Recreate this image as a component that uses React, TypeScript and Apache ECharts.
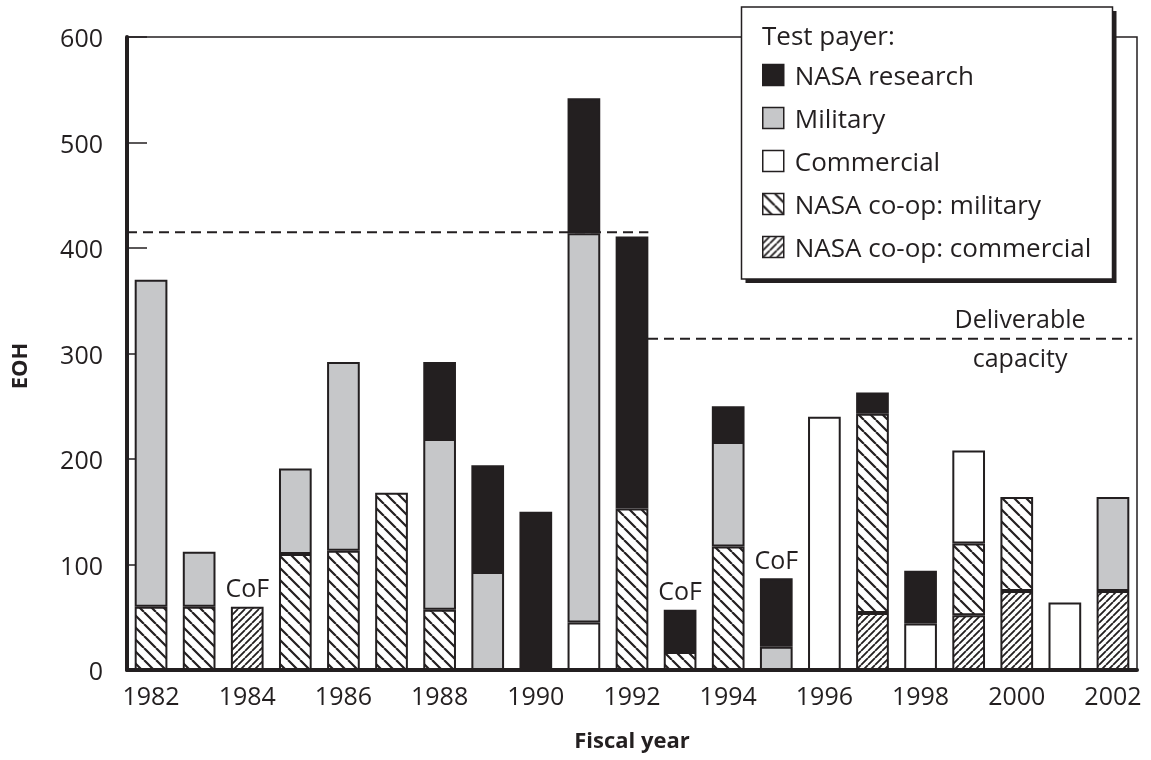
import React, { useEffect, useRef } from "react";
import * as echarts from "echarts";

const years = ["1982","1983","1984","1985","1986","1987","1988","1989","1990","1991","1992","1993","1994","1995","1996","1997","1998","1999","2000","2001","2002"];
const coopCommercial = [0, 0, 60, 0, 0, 0, 0, 0, 0, 0, 0, 0, 0, 0, 0, 54, 0, 52, 75, 0, 75];
const coopMilitary = [60, 60, 0, 110, 113, 168, 57, 0, 0, 0, 153, 17, 117, 0, 0, 189, 0, 68, 89, 0, 0];
const commercial = [0, 0, 0, 0, 0, 0, 0, 0, 0, 45, 0, 0, 0, 0, 240, 0, 44, 88, 0, 64, 0];
const military = [310, 52, 0, 81, 179, 0, 162, 93, 0, 369, 0, 0, 99, 22, 0, 0, 0, 0, 0, 0, 89];
const research = [0, 0, 0, 0, 0, 0, 73, 101, 150, 128, 258, 40, 34, 65, 0, 20, 50, 0, 0, 0, 0];
const cofYears = ["1984", "1993", "1995"];
const capacityEarly = 415;
const capacityLate = 314;
// positions along the year axis (in category units) where capacity periods run
const earlyPeriod = [0, 10.84];
const latePeriod = [10.5, 20.9];
const yMin = 0, yMax = 600, yStep = 100;

const FONT = "Open Sans";
const INK = "#231f20";

function makeHatch(size: number, lw: number, dir: "back" | "fwd") {
  const c = document.createElement("canvas");
  c.width = size;
  c.height = size;
  const ctx = c.getContext("2d")!;
  ctx.fillStyle = "#ffffff";
  ctx.fillRect(0, 0, size, size);
  ctx.strokeStyle = INK;
  ctx.lineWidth = lw;
  ctx.beginPath();
  for (const k of [-size, 0, size]) {
    if (dir === "back") {
      ctx.moveTo(k, 0);
      ctx.lineTo(k + size, size);
    } else {
      ctx.moveTo(k, size);
      ctx.lineTo(k + size, 0);
    }
  }
  ctx.stroke();
  return c;
}

export default function App() {
  const ref = useRef<HTMLDivElement>(null);
  useEffect(() => {
    if (!ref.current) return;
    const chart = echarts.init(ref.current, undefined, { renderer: "svg" });
    const hatchBack = { image: makeHatch(12, 2.2, "back"), repeat: "repeat" };
    const hatchFwd = { image: makeHatch(7, 1.8, "fwd"), repeat: "repeat" };

    const segs = [
      { name: "NASA co-op: commercial", data: coopCommercial, color: hatchFwd },
      { name: "NASA co-op: military", data: coopMilitary, color: hatchBack },
      { name: "Commercial", data: commercial, color: "#ffffff" },
      { name: "Military", data: military, color: "#c6c7c9" },
      { name: "NASA research", data: research, color: INK },
    ];
    const topIndex = years.map((_, i) => {
      let t = -1;
      segs.forEach((s, si) => { if (s.data[i] > 0) t = si; });
      return t;
    });

    const barSeries = segs.map((s, si) => ({
      name: s.name,
      type: "bar",
      stack: "total",
      barWidth: "68%",
      z: 3,
      itemStyle: { color: s.color as any, borderColor: INK, borderWidth: 2 },
      data: s.data.map((v, i) => {
        if (!(v > 0)) return "-";
        if (topIndex[i] === si && cofYears.includes(years[i])) {
          return {
            value: v,
            label: { show: true, position: "top", distance: 7, formatter: "CoF", fontSize: 25, color: INK, fontFamily: FONT },
          };
        }
        return v;
      }),
    }));

    const dashStyle = { color: INK, width: 2, type: [10, 6] as any };

    chart.setOption({
      animation: false,
      textStyle: { fontFamily: FONT, color: INK },
      grid: { left: 127, right: 14, top: 37, bottom: 90, show: true, borderColor: INK, borderWidth: 1.5, containLabel: false },
      xAxis: [
        {
          type: "category",
          data: years,
          boundaryGap: true,
          axisLine: { lineStyle: { color: INK, width: 4 } },
          axisTick: { inside: true, length: 20, interval: 0, lineStyle: { color: INK, width: 1.5 } },
          axisLabel: { interval: 1, fontSize: 25, color: INK, fontFamily: FONT, margin: 12 },
          name: "Fiscal year",
          nameLocation: "middle",
          nameGap: 58,
          nameTextStyle: { fontSize: 22, fontWeight: "bold", color: INK, fontFamily: FONT },
        },
        { type: "value", min: 0, max: 21, show: false },
      ],
      yAxis: {
        type: "value",
        min: yMin,
        max: yMax,
        interval: yStep,
        axisLine: { show: true, lineStyle: { color: INK, width: 4 } },
        axisTick: { show: true, inside: true, length: 20, lineStyle: { color: INK, width: 1.5 } },
        axisLabel: { fontSize: 25, color: INK, fontFamily: FONT, margin: 24 },
        splitLine: { show: false },
      },
      legend: {
        orient: "vertical",
        left: 762,
        top: 62,
        padding: 0,
        z: 200,
        selectedMode: false,
        icon: "rect",
        itemWidth: 21,
        itemHeight: 21,
        itemGap: 17,
        itemStyle: { borderColor: INK, borderWidth: 1.5 },
        textStyle: { fontSize: 26, color: INK, fontFamily: FONT, padding: [0, 0, 0, 6] },
        data: ["NASA research", "Military", "Commercial", "NASA co-op: military", "NASA co-op: commercial"],
      },
      graphic: [
        { type: "rect", z: 100, shape: { x: 745.5, y: 11, width: 371, height: 272 }, style: { fill: INK } },
        { type: "rect", z: 101, shape: { x: 741.5, y: 7, width: 371, height: 272 }, style: { fill: "#ffffff", stroke: INK, lineWidth: 1.5 } },
        { type: "text", z: 102, x: 762, y: 35, style: { text: "Test payer:", fontSize: 26, fill: INK, fontFamily: FONT, verticalAlign: "middle" } },
        { type: "text", z: 102, x: 18, y: 366, rotation: Math.PI / 2, style: { text: "EOH", fontSize: 22, fontWeight: "bold", fill: INK, fontFamily: FONT, align: "center", verticalAlign: "middle" } },
      ],
      series: [
        ...barSeries,
        {
          type: "line",
          xAxisIndex: 1,
          z: 1,
          symbol: "none",
          silent: true,
          lineStyle: dashStyle,
          data: [[earlyPeriod[0], capacityEarly], [earlyPeriod[1], capacityEarly]],
        },
        {
          type: "line",
          xAxisIndex: 1,
          z: 1,
          symbol: "none",
          silent: true,
          lineStyle: dashStyle,
          data: [[latePeriod[0], capacityLate], [latePeriod[1], capacityLate]],
        },
        {
          type: "scatter",
          xAxisIndex: 1,
          symbolSize: 0,
          silent: true,
          itemStyle: { opacity: 1 },
          data: [
            { value: [18.57, capacityLate], label: { show: true, position: "top", distance: 8, formatter: "Deliverable", fontSize: 25, color: INK, fontFamily: FONT } },
            { value: [18.57, capacityLate], label: { show: true, position: "bottom", distance: 6, formatter: "capacity", fontSize: 25, color: INK, fontFamily: FONT } },
          ],
        },
      ],
    });
    return () => chart.dispose();
  }, []);
  return <div ref={ref} style={{ position: "fixed", left: 0, top: 0, width: 1151, height: 760 }} />;
}
